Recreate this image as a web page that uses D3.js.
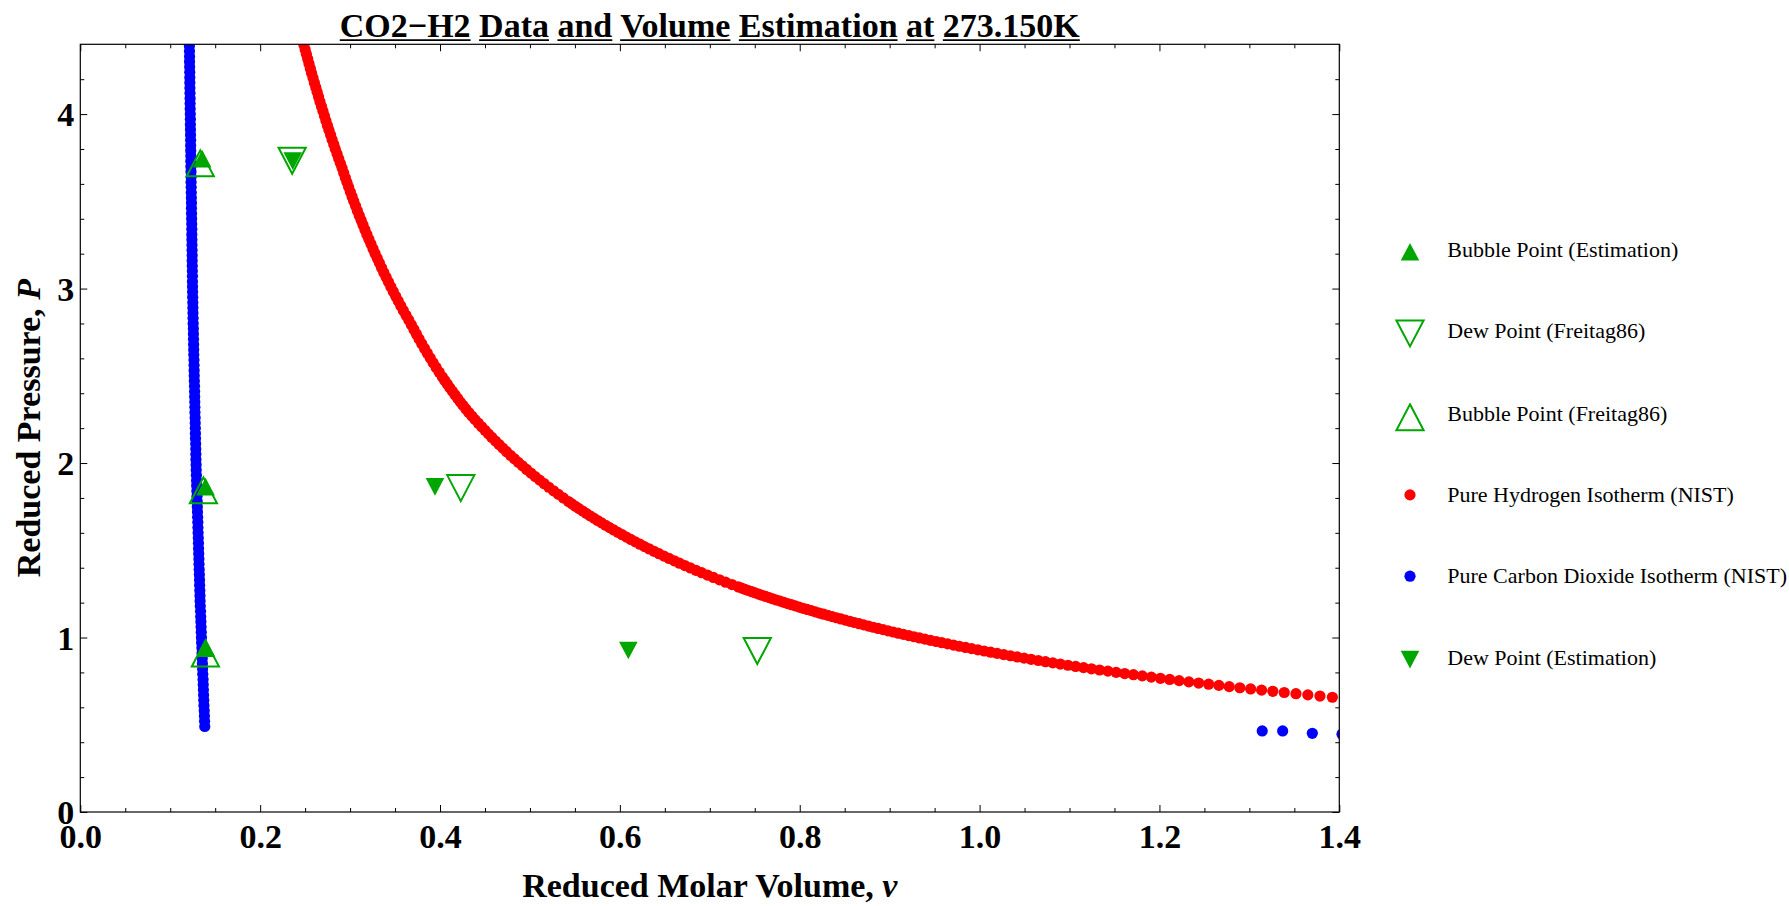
<!DOCTYPE html>
<html>
<head>
<meta charset="utf-8">
<script src="https://cdn.jsdelivr.net/npm/d3@7"></script>
<style>
  body { margin: 0; background: #ffffff; }
  svg { display: block; }
  text { font-family: "Liberation Serif", "Times New Roman", serif; fill: #000; }
</style>
</head>
<body>
<svg id="chart" width="1789" height="906"></svg>
<script>
// ---- Text ----
const titleWords = ["CO2\u2212H2", "Data", "and", "Volume", "Estimation", "at", "273.150K"];
const xTickValues = [0, 0.2, 0.4, 0.6, 0.8, 1.0, 1.2, 1.4];
const xTickLabels = ["0.0", "0.2", "0.4", "0.6", "0.8", "1.0", "1.2", "1.4"];
const yTickValues = [0, 1, 2, 3, 4];
const yTickLabels = ["0", "1", "2", "3", "4"];
const legendLabels = [
  "Bubble Point (Estimation)",
  "Dew Point (Freitag86)",
  "Bubble Point (Freitag86)",
  "Pure Hydrogen Isotherm (NIST)",
  "Pure Carbon Dioxide Isotherm (NIST)",
  "Dew Point (Estimation)"
];

// ---- Phase-equilibrium points, [reduced volume v, reduced pressure P] ----
const bubbleEstimation = [[0.1355, 3.745], [0.1393, 1.865], [0.1398, 0.939]];
const dewFreitag86     = [[0.2356, 3.729], [0.4231, 1.853], [0.7528, 0.919]];
const bubbleFreitag86  = [[0.1334, 3.721], [0.1369, 1.847], [0.1391, 0.912]];
const dewEstimation    = [[0.2362, 3.731], [0.3944, 1.864], [0.6094, 0.926]];

// ---- Pure hydrogen isotherm (NIST), [v, P] ----
const hydrogenNIST = [
  [1.4208,0.6440],[1.4064,0.6508],[1.3923,0.6576],[1.3785,0.6644],[1.3650,0.6712],[1.3518,0.6780],
  [1.3388,0.6848],[1.3261,0.6916],[1.3136,0.6984],[1.3014,0.7052],[1.2894,0.7120],[1.2776,0.7188],
  [1.2661,0.7256],[1.2547,0.7324],[1.2436,0.7392],[1.2327,0.7460],[1.2219,0.7528],[1.2114,0.7596],
  [1.2011,0.7664],[1.1909,0.7732],[1.1809,0.7800],[1.1711,0.7868],[1.1614,0.7936],[1.1519,0.8004],
  [1.1426,0.8072],[1.1334,0.8140],[1.1244,0.8208],[1.1156,0.8276],[1.1068,0.8344],[1.0983,0.8412],
  [1.0898,0.8480],[1.0815,0.8548],[1.0733,0.8616],[1.0653,0.8684],[1.0573,0.8752],[1.0495,0.8820],
  [1.0419,0.8888],[1.0343,0.8956],[1.0268,0.9024],[1.0195,0.9092],[1.0123,0.9160],[1.0051,0.9228],
  [0.9981,0.9296],[0.9912,0.9364],[0.9844,0.9432],[0.9776,0.9500],[0.9710,0.9568],[0.9645,0.9636],
  [0.9580,0.9704],[0.9517,0.9772],[0.9454,0.9840],[0.9392,0.9908],[0.9331,0.9976],[0.9271,1.0044],
  [0.9212,1.0112],[0.9153,1.0180],[0.9096,1.0248],[0.9039,1.0316],[0.8982,1.0384],[0.8927,1.0452],
  [0.8872,1.0520],[0.8818,1.0588],[0.8765,1.0656],[0.8712,1.0724],[0.8660,1.0792],[0.8608,1.0860],
  [0.8558,1.0928],[0.8507,1.0996],[0.8458,1.1064],[0.8409,1.1132],[0.8361,1.1200],[0.8313,1.1268],
  [0.8266,1.1336],[0.8219,1.1404],[0.8173,1.1472],[0.8128,1.1540],[0.8083,1.1608],[0.8038,1.1676],
  [0.7994,1.1744],[0.7951,1.1812],[0.7908,1.1880],[0.7865,1.1948],[0.7824,1.2016],[0.7782,1.2084],
  [0.7741,1.2152],[0.7700,1.2220],[0.7660,1.2288],[0.7621,1.2356],[0.7581,1.2424],[0.7543,1.2492],
  [0.7504,1.2560],[0.7466,1.2628],[0.7429,1.2696],[0.7391,1.2764],[0.7355,1.2832],[0.7318,1.2900],
  [0.7247,1.3036],[0.7176,1.3172],[0.7108,1.3308],[0.7040,1.3444],[0.6974,1.3580],[0.6910,1.3716],
  [0.6846,1.3852],[0.6784,1.3988],[0.6723,1.4124],[0.6663,1.4260],[0.6605,1.4396],[0.6547,1.4532],
  [0.6490,1.4668],[0.6435,1.4804],[0.6380,1.4940],[0.6327,1.5076],[0.6274,1.5212],[0.6223,1.5348],
  [0.6172,1.5484],[0.6122,1.5620],[0.6073,1.5756],[0.6025,1.5892],[0.5978,1.6028],[0.5931,1.6164],
  [0.5886,1.6300],[0.5841,1.6436],[0.5796,1.6572],[0.5753,1.6708],[0.5710,1.6844],[0.5668,1.6980],
  [0.5626,1.7116],[0.5586,1.7252],[0.5545,1.7388],[0.5506,1.7524],[0.5467,1.7660],[0.5429,1.7796],
  [0.5372,1.8000],[0.5317,1.8204],[0.5263,1.8408],[0.5210,1.8612],[0.5159,1.8816],[0.5108,1.9020],
  [0.5059,1.9224],[0.5010,1.9428],[0.4963,1.9632],[0.4917,1.9836],[0.4871,2.0040],[0.4827,2.0244],
  [0.4783,2.0448],[0.4740,2.0652],[0.4698,2.0856],[0.4657,2.1060],[0.4617,2.1264],[0.4577,2.1468],
  [0.4538,2.1672],[0.4500,2.1876],[0.4463,2.2080],[0.4426,2.2284],[0.4390,2.2488],[0.4354,2.2692],
  [0.4320,2.2896],[0.4287,2.3100],[0.4256,2.3304],[0.4225,2.3508],[0.4195,2.3712],[0.4166,2.3916],
  [0.4136,2.4120],[0.4108,2.4324],[0.4080,2.4528],[0.4053,2.4732],[0.4026,2.4936],
  [0.3991,2.5208],[0.3957,2.5480],[0.3923,2.5752],[0.3891,2.6024],[0.3859,2.6296],[0.3828,2.6568],
  [0.3797,2.6840],[0.3767,2.7112],[0.3738,2.7384],[0.3710,2.7656],[0.3681,2.7928],[0.3652,2.8200],
  [0.3622,2.8472],[0.3592,2.8744],[0.3563,2.9016],[0.3535,2.9288],[0.3507,2.9560],[0.3480,2.9832],
  [0.3453,3.0104],[0.3427,3.0376],[0.3401,3.0648],[0.3375,3.0920],[0.3350,3.1192],[0.3326,3.1464],
  [0.3302,3.1736],[0.3278,3.2008],[0.3255,3.2280],[0.3232,3.2552],[0.3209,3.2824],[0.3187,3.3096],
  [0.3165,3.3368],[0.3144,3.3640],[0.3123,3.3912],[0.3102,3.4184],[0.3081,3.4456],[0.3061,3.4728],
  [0.3041,3.5000],[0.3022,3.5272],[0.3003,3.5544],[0.2984,3.5816],[0.2965,3.6088],[0.2947,3.6360],
  [0.2929,3.6632],[0.2911,3.6904],[0.2892,3.7176],[0.2873,3.7448],[0.2855,3.7720],[0.2836,3.7992],
  [0.2819,3.8264],[0.2800,3.8536],[0.2783,3.8808],[0.2765,3.9080],[0.2748,3.9352],[0.2731,3.9624],
  [0.2715,3.9896],[0.2698,4.0168],[0.2682,4.0440],[0.2665,4.0712],[0.2650,4.0984],[0.2634,4.1256],
  [0.2619,4.1528],[0.2603,4.1800],[0.2588,4.2072],[0.2572,4.2344],[0.2558,4.2616],[0.2543,4.2888],
  [0.2529,4.3160],[0.2514,4.3432],[0.2500,4.3704],[0.2486,4.3976],[0.2472,4.4248],[0.2458,4.4520]
];

// ---- Pure carbon dioxide isotherm (NIST), liquid branch, [v, P] ----
const co2LiquidNIST = [
  [0.1384,0.49],[0.1382,0.52],[0.1380,0.55],[0.1378,0.58],[0.1375,0.61],[0.1373,0.64],[0.1371,0.67],
  [0.1369,0.70],[0.1367,0.73],[0.1365,0.76],[0.1362,0.79],[0.1360,0.82],[0.1358,0.85],[0.1356,0.88],
  [0.1354,0.91],[0.1352,0.94],[0.1349,0.97],[0.1347,1.00],[0.1345,1.03],[0.1343,1.06],[0.1341,1.09],
  [0.1339,1.12],[0.1337,1.15],[0.1334,1.18],[0.1332,1.21],[0.1331,1.24],[0.1329,1.27],[0.1327,1.30],
  [0.1326,1.33],[0.1324,1.36],[0.1322,1.39],[0.1320,1.42],[0.1319,1.45],[0.1317,1.48],[0.1315,1.51],
  [0.1314,1.54],[0.1312,1.57],[0.1310,1.60],[0.1308,1.63],[0.1307,1.66],[0.1305,1.69],[0.1303,1.72],
  [0.1301,1.75],[0.1300,1.78],[0.1298,1.81],[0.1296,1.84],[0.1294,1.87],[0.1293,1.90],[0.1291,1.93],
  [0.1289,1.96],[0.1288,1.99],[0.1286,2.02],[0.1285,2.05],[0.1284,2.08],[0.1283,2.11],[0.1281,2.14],
  [0.1280,2.17],[0.1279,2.20],[0.1278,2.23],[0.1277,2.26],[0.1275,2.29],[0.1274,2.32],[0.1273,2.35],
  [0.1272,2.38],[0.1271,2.41],[0.1270,2.44],[0.1268,2.47],[0.1267,2.50],[0.1266,2.53],[0.1265,2.56],
  [0.1264,2.59],[0.1262,2.62],[0.1261,2.65],[0.1260,2.68],[0.1259,2.71],[0.1258,2.74],[0.1257,2.77],
  [0.1255,2.80],[0.1254,2.83],[0.1253,2.86],[0.1252,2.89],[0.1251,2.92],[0.1250,2.95],[0.1249,2.98],
  [0.1248,3.01],[0.1247,3.04],[0.1247,3.07],[0.1246,3.10],[0.1245,3.13],[0.1244,3.16],[0.1244,3.19],
  [0.1243,3.22],[0.1242,3.25],[0.1241,3.28],[0.1240,3.31],[0.1240,3.34],[0.1239,3.37],[0.1238,3.40],
  [0.1237,3.43],[0.1236,3.46],[0.1236,3.49],[0.1235,3.52],[0.1234,3.55],[0.1233,3.58],[0.1232,3.61],
  [0.1232,3.64],[0.1231,3.67],[0.1230,3.70],[0.1229,3.73],[0.1229,3.76],[0.1228,3.79],[0.1227,3.82],
  [0.1227,3.85],[0.1226,3.88],[0.1225,3.91],[0.1224,3.94],[0.1224,3.97],[0.1223,4.00],[0.1222,4.03],
  [0.1221,4.06],[0.1221,4.09],[0.1220,4.12],[0.1219,4.15],[0.1218,4.18],[0.1218,4.21],[0.1217,4.24],
  [0.1216,4.27],[0.1215,4.30],[0.1215,4.33],[0.1214,4.36],[0.1213,4.39],[0.1212,4.42],[0.1212,4.45]
];

// ---- Pure carbon dioxide isotherm (NIST), vapour branch, [v, P] ----
const co2VaporNIST = [[1.3143, 0.4644], [1.3370, 0.4644], [1.3700, 0.4510], [1.4030, 0.4455]];

// ---- Layout ----
const W = 1789, H = 906;
const plotLeft = 80.3, plotRight = 1339.3, plotTop = 44.3, plotBottom = 812;
const GREEN = "#00a600", RED = "#ff0000", BLUE = "#0000ff";
const FONT_BIG = 34;
const DOT_R = 5.6;

const svg = d3.select("#chart");
const x = d3.scaleLinear().domain([0, 1.4]).range([plotLeft, plotRight]);
const y = d3.scaleLinear().domain([0, 4.4]).range([plotBottom, plotTop]);

svg.append("rect").attr("width", W).attr("height", H).attr("fill", "#fff");

svg.append("defs").append("clipPath").attr("id", "plotClip")
  .append("rect")
  .attr("x", plotLeft).attr("y", plotTop)
  .attr("width", plotRight - plotLeft).attr("height", plotBottom - plotTop);

// ---- Axes: major and minor ticks pointing inward on all four sides ----
const xMinor = d3.range(0, 1.4001, 0.05).filter(v => Math.abs(v / 0.2 - Math.round(v / 0.2)) > 1e-6);
const yMinor = d3.range(0, 4.4001, 0.2).filter(v => Math.abs(v - Math.round(v)) > 1e-6 && v < 4.39);

function styleAxis(g) {
  g.select(".domain").remove();
  g.selectAll(".tick line").attr("stroke", "#000").attr("stroke-width", 1);
}

// bottom
svg.append("g").attr("transform", `translate(0,${plotBottom})`)
  .call(d3.axisBottom(x).tickValues(xTickValues).tickSizeInner(-7).tickSizeOuter(0).tickPadding(12)
        .tickFormat((d, i) => xTickLabels[i]))
  .call(styleAxis)
  .call(g => g.selectAll("text")
    .attr("font-size", FONT_BIG).attr("font-weight", "bold")
    .attr("font-family", "Liberation Serif, Times New Roman, serif").attr("fill", "#000"));
svg.append("g").attr("transform", `translate(0,${plotBottom})`)
  .call(d3.axisBottom(x).tickValues(xMinor).tickSizeInner(-4).tickSizeOuter(0).tickFormat(""))
  .call(styleAxis);
// top
svg.append("g").attr("transform", `translate(0,${plotTop})`)
  .call(d3.axisTop(x).tickValues(xTickValues).tickSizeInner(-7).tickSizeOuter(0).tickFormat(""))
  .call(styleAxis);
svg.append("g").attr("transform", `translate(0,${plotTop})`)
  .call(d3.axisTop(x).tickValues(xMinor).tickSizeInner(-4).tickSizeOuter(0).tickFormat(""))
  .call(styleAxis);
// left
svg.append("g").attr("transform", `translate(${plotLeft},0)`)
  .call(d3.axisLeft(y).tickValues(yTickValues).tickSizeInner(-7).tickSizeOuter(0).tickPadding(6)
        .tickFormat((d, i) => yTickLabels[i]))
  .call(styleAxis)
  .call(g => g.selectAll("text")
    .attr("font-size", FONT_BIG).attr("font-weight", "bold").attr("dy", "0.35em")
    .attr("font-family", "Liberation Serif, Times New Roman, serif").attr("fill", "#000"));
svg.append("g").attr("transform", `translate(${plotLeft},0)`)
  .call(d3.axisLeft(y).tickValues(yMinor).tickSizeInner(-4).tickSizeOuter(0).tickFormat(""))
  .call(styleAxis);
// right
svg.append("g").attr("transform", `translate(${plotRight},0)`)
  .call(d3.axisRight(y).tickValues(yTickValues).tickSizeInner(-7).tickSizeOuter(0).tickFormat(""))
  .call(styleAxis);
svg.append("g").attr("transform", `translate(${plotRight},0)`)
  .call(d3.axisRight(y).tickValues(yMinor).tickSizeInner(-4).tickSizeOuter(0).tickFormat(""))
  .call(styleAxis);

// ---- Marker shapes ----
function triPath(cx, cy, halfW, up, hTop, hBot) {
  // hTop: distance from centre to upper edge, hBot: to lower edge
  if (up) return `M${cx},${cy - hTop}L${cx + halfW},${cy + hBot}L${cx - halfW},${cy + hBot}Z`;
  return `M${cx},${cy + hBot}L${cx + halfW},${cy - hTop}L${cx - halfW},${cy - hTop}Z`;
}
const filledUp   = (cx, cy) => triPath(cx, cy, 9.3, true, 8.9, 8.8);
const filledDown = (cx, cy) => triPath(cx, cy, 9.3, false, 8.8, 8.9);
const openUp     = (cx, cy) => triPath(cx, cy, 13.6, true, 12.4, 13.6);
const openDown   = (cx, cy) => triPath(cx, cy, 13.6, false, 13.6, 12.4);

// ---- Data layer ----
const plot = svg.append("g").attr("clip-path", "url(#plotClip)");

plot.append("g").selectAll("circle").data(hydrogenNIST).join("circle")
  .attr("cx", d => x(d[0])).attr("cy", d => y(d[1])).attr("r", DOT_R).attr("fill", RED);

plot.append("g").selectAll("circle").data(co2LiquidNIST.concat(co2VaporNIST)).join("circle")
  .attr("cx", d => x(d[0])).attr("cy", d => y(d[1])).attr("r", DOT_R).attr("fill", BLUE);

function drawMarkers(data, shape, filled) {
  plot.append("g").selectAll("path").data(data).join("path")
    .attr("d", d => shape(x(d[0]), y(d[1])))
    .attr("fill", filled ? GREEN : "none")
    .attr("stroke", filled ? "none" : GREEN)
    .attr("stroke-width", filled ? 0 : 2)
    .attr("stroke-linejoin", "miter");
}
drawMarkers(bubbleEstimation, filledUp, true);
drawMarkers(dewFreitag86, openDown, false);
drawMarkers(bubbleFreitag86, openUp, false);
drawMarkers(dewEstimation, filledDown, true);

// ---- Frame ----
svg.append("rect")
  .attr("x", plotLeft).attr("y", plotTop)
  .attr("width", plotRight - plotLeft).attr("height", plotBottom - plotTop)
  .attr("fill", "none").attr("stroke", "#000").attr("stroke-width", 1.2);

// ---- Axis titles ----
const xTitle = svg.append("text")
  .attr("x", (plotLeft + plotRight) / 2).attr("y", 897)
  .attr("text-anchor", "middle").attr("font-size", FONT_BIG).attr("font-weight", "bold");
xTitle.append("tspan").text("Reduced Molar Volume, ");
xTitle.append("tspan").attr("font-style", "italic").text("v");

const yTitle = svg.append("text")
  .attr("transform", `translate(40,${(plotTop + plotBottom) / 2}) rotate(-90)`)
  .attr("text-anchor", "middle").attr("font-size", FONT_BIG).attr("font-weight", "bold");
yTitle.append("tspan").text("Reduced Pressure, ");
yTitle.append("tspan").attr("font-style", "italic").text("P");

// ---- Title with each word underlined ----
const titleText = titleWords.join(" ");
const title = svg.append("text")
  .attr("x", (plotLeft + plotRight) / 2).attr("y", 36.5)
  .attr("text-anchor", "middle").attr("font-size", FONT_BIG).attr("font-weight", "bold")
  .text(titleText);
{
  const node = title.node();
  let idx = 0;
  titleWords.forEach(w => {
    const x0 = node.getStartPositionOfChar(idx).x;
    const len = node.getSubStringLength(idx, w.length);
    svg.append("line")
      .attr("x1", x0).attr("x2", x0 + len)
      .attr("y1", 40.2).attr("y2", 40.2)
      .attr("stroke", "#000").attr("stroke-width", 1.7);
    idx += w.length + 1;
  });
}

// ---- Legend ----
const legendMarkerX = 1410, legendTextX = 1447.3;
const legendBaselines = [257.3, 338, 420.7, 501.7, 583, 665];
const legendKinds = ["filledUp", "openDown", "openUp", "dotRed", "dotBlue", "filledDown"];
const legend = svg.append("g");
legendKinds.forEach((kind, i) => {
  const cy = legendBaselines[i] - 6.5;
  if (kind === "dotRed" || kind === "dotBlue") {
    legend.append("circle").attr("cx", legendMarkerX).attr("cy", legendBaselines[i] - 6.8)
      .attr("r", 5.6).attr("fill", kind === "dotRed" ? RED : BLUE);
  } else {
    const shape = { filledUp, filledDown, openUp, openDown }[kind];
    const filled = kind.startsWith("filled");
    legend.append("path").attr("d", shape(legendMarkerX, cy + (kind === "openUp" || kind === "openDown" ? 2.5 : 1)))
      .attr("fill", filled ? GREEN : "none")
      .attr("stroke", filled ? "none" : GREEN)
      .attr("stroke-width", filled ? 0 : 2);
  }
  legend.append("text")
    .attr("x", legendTextX).attr("y", legendBaselines[i])
    .attr("font-size", 22)
    .text(legendLabels[i]);
});
</script>
</body>
</html>
